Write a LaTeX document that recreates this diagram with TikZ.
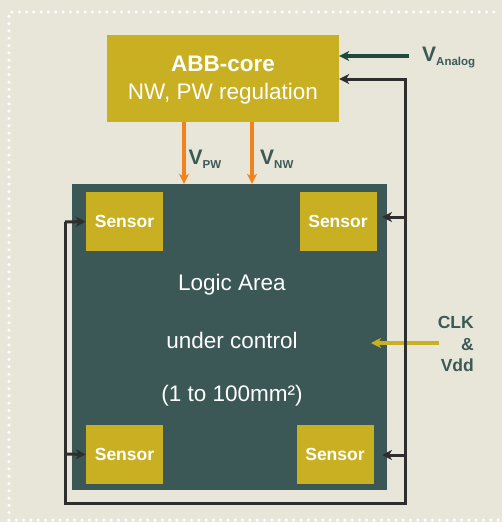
\documentclass[tikz,border=0pt]{standalone}
\usepackage{fontspec}
\setmainfont{Liberation Sans}
\usetikzlibrary{arrows.meta,calc}
\definecolor{bg}{HTML}{E8E5D9}
\definecolor{ochre}{HTML}{C9B022}
\definecolor{teal}{HTML}{3B5756}
\definecolor{orng}{HTML}{F0831E}
\definecolor{wirec}{HTML}{2E2E2E}
\definecolor{dgreen}{HTML}{1F4A3B}
\definecolor{lbl}{HTML}{3C5A55}
\tikzset{
  box/.style={draw=none,fill=ochre,text=white,inner sep=0pt,align=center},
  sensorbox/.style={box,minimum width=77pt,minimum height=59pt,font=\fontsize{17.5}{20}\selectfont\bfseries},
  areatext/.style={text=white,font=\fontsize{22.5}{27}\selectfont,inner sep=0pt},
  vlabel/.style={text=lbl,inner sep=0pt,anchor=west},
  wire/.style={draw=wirec,line width=3pt},
  tipx/.style={-{Stealth[length=10pt,width=10pt,inset=3pt]}},
  wirearrow/.style={wire,tipx},
  pwarrow/.style={draw=orng,line width=3.5pt,-{Stealth[length=10pt,width=10pt,inset=3pt]}},
}
\newcommand{\Vsub}[1]{{\fontsize{21}{21}\selectfont\bfseries V}{\fontsize{11.5}{12}\selectfont\bfseries\raisebox{-4pt}{#1}}}
\begin{document}
\begin{tikzpicture}[x=1pt,y=-1pt]
\fill[bg] (0,0) rectangle (502,522);
\useasboundingbox (0,0) rectangle (502,522);
\draw[white,line width=3.5pt,line cap=round,dash pattern=on 0pt off 7.3pt] (9,520) -- (9,12) -- (501,12);
\draw[white,line width=3.5pt,line cap=round,dash pattern=on 0pt off 7.3pt] (9,520) -- (501,520);

% ABB core
\node[box,minimum width=232pt,minimum height=87pt] (abb) at (223,78.5) {};
\node[text=white,align=center,inner sep=0pt,font=\fontsize{22.5}{28}\selectfont] (abbtext) at (223,80.5)
  {\textbf{ABB-core}\\NW, PW regulation};

% logic area
\node[fill=teal,minimum width=315pt,minimum height=306pt,inner sep=0pt] (logic) at (229.5,337) {};
\node[sensorbox] (tl) at (124.5,221.5) {Sensor};
\node[sensorbox] (tr) at (338,221.5) {Sensor};
\node[sensorbox] (bl) at (124.5,454.5) {Sensor};
\node[sensorbox] (br) at (335,454.5) {Sensor};
\node[areatext] (t1) at (232,285) {Logic Area};
\node[areatext] (t2) at (232,340) {under control};
\node[areatext] (t3) at (232,396) {(1 to 100mm²)};

% orange arrows
\draw[pwarrow] (abb.south -| 184,0) -- (logic.north -| 184,0);
\draw[pwarrow] (abb.south -| 252,0) -- (logic.north -| 252,0);
\node[vlabel] (vpw) at (188.5,159) {\Vsub{PW}};
\node[vlabel] (vnw) at (260,159) {\Vsub{NW}};

% V analog
\node[vlabel] (van) at (422,57) {\Vsub{Analog}};
\coordinate (vanstart) at (409,56);
\draw[draw=dgreen,line width=3.5pt,tipx] (vanstart) -- (vanstart -| abb.east);

% CLK & Vdd
\node[text=lbl,font=\fontsize{17.5}{21.5}\selectfont\bfseries,align=right,anchor=east,inner sep=0pt] (clk) at (474,344) {CLK\\\&\\Vdd};
\coordinate (clkstart) at (439,343);
\coordinate (clkend) at (371,343);
\draw[draw=ochre,line width=3.5pt,tipx] (clkstart) -- (clkend);

% feedback wiring
\coordinate (lt) at (65,222);
\coordinate (lb) at (65,454);
\coordinate (cbl) at (65,503);
\coordinate (cbr) at (405,503);
\coordinate (rt) at (405,79);
\coordinate (rs1) at (405,217);
\coordinate (rs2) at (405,455);
\coordinate (te1) at (382,217);
\coordinate (te2) at (382,455);
\draw[wire,tipx] (lt) -- (cbl) -- (cbr) -- (rt) -- (rt -| abb.east);
\draw[wirearrow] (lt) -- (tl.west);
\draw[wirearrow] (lb) -- (bl.west);
\draw[wirearrow] (rs1) -- (te1);
\draw[wirearrow] (rs2) -- (te2);
\end{tikzpicture}
\end{document}
